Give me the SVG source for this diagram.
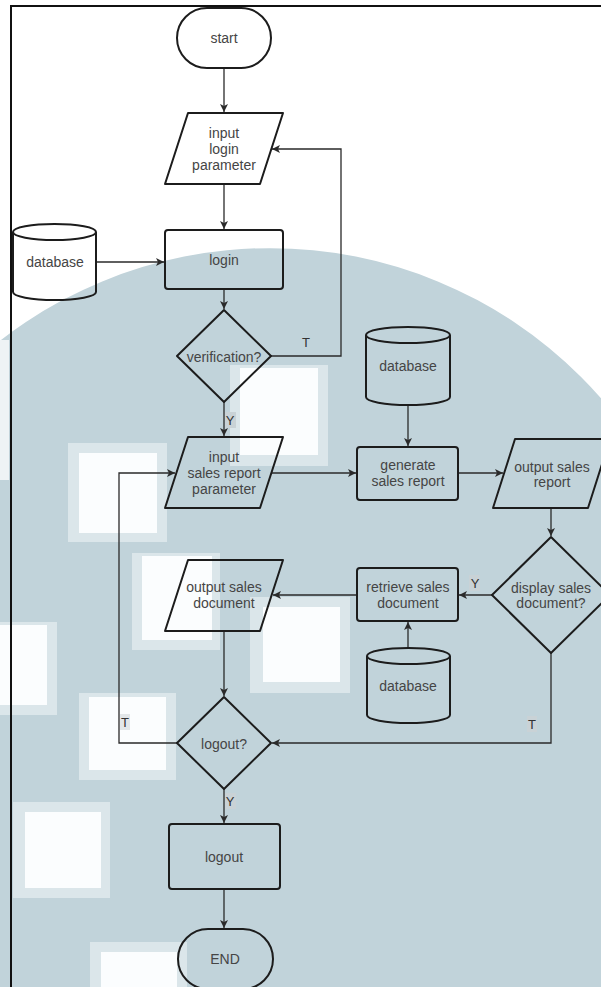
<svg xmlns="http://www.w3.org/2000/svg" width="601" height="987" viewBox="0 0 601 987">
<style>
.n{fill:none;stroke:#1c1c1c;stroke-width:2;stroke-linejoin:round}
.c{fill:none;stroke:#2a2a2a;stroke-width:1.3}
.t{font-family:"Liberation Sans",Arial,sans-serif;font-size:14px;fill:#454545;text-anchor:middle}
.l{font-family:"Liberation Sans",Arial,sans-serif;font-size:13px;fill:#333;text-anchor:middle}
.sq{fill:#dbe6ea}
.sw{fill:#fbfdfe}
</style>
<defs>
<marker id="ar" markerUnits="userSpaceOnUse" markerWidth="10" markerHeight="8" refX="8" refY="4" orient="auto">
<path d="M0,0 L8,4 L0,8 L2,4 z" fill="#2a2a2a"/>
</marker>
</defs>
<g id="background">
<rect x="0" y="0" width="601" height="987" fill="#ffffff"/>
<path d="M-170,688 A440,440 0 0 1 710,688 V1000 H-170 Z" fill="#c1d3da"/>
<rect x="0" y="340" width="9" height="140" fill="#eef3f5"/>
<rect class="sq" x="230" y="365" width="98" height="101"/><rect class="sw" x="240" y="368" width="78" height="87"/>
<rect class="sq" x="68" y="443" width="99" height="99"/><rect class="sw" x="79" y="453" width="78" height="80"/>
<rect class="sq" x="132" y="553" width="88" height="97"/><rect class="sw" x="142" y="556" width="70" height="84"/>
<rect class="sq" x="250" y="597" width="100" height="96"/><rect class="sw" x="263" y="607" width="77" height="75"/>
<rect class="sq" x="0" y="622" width="57" height="93"/><rect class="sw" x="0" y="625" width="47" height="80"/>
<rect class="sq" x="79" y="693" width="97" height="87"/><rect class="sw" x="89" y="697" width="77" height="73"/>
<rect class="sq" x="13" y="802" width="97" height="96"/><rect class="sw" x="25" y="812" width="76" height="76"/>
<rect class="sq" x="90" y="942" width="97" height="45"/><rect class="sw" x="101" y="952" width="76" height="35"/>
<path d="M10,6 H601" stroke="#111" stroke-width="2.2" fill="none"/>
<path d="M11,5 V987" stroke="#111" stroke-width="2" fill="none"/>
</g>
<g id="connectors">
<path class="c" d="M224,68 V112" marker-end="url(#ar)"/>
<path class="c" d="M224,184 V229" marker-end="url(#ar)"/>
<path class="c" d="M96,262 H164" marker-end="url(#ar)"/>
<path class="c" d="M224,289 V309" marker-end="url(#ar)"/>
<path class="c" d="M271,356 H341 V149 H272" marker-end="url(#ar)"/>
<path class="c" d="M224,402 V436" marker-end="url(#ar)"/>
<path class="c" d="M272,473 H356" marker-end="url(#ar)"/>
<path class="c" d="M408,405 V446" marker-end="url(#ar)"/>
<path class="c" d="M458,473 H503" marker-end="url(#ar)"/>
<path class="c" d="M551,508 V536" marker-end="url(#ar)"/>
<path class="c" d="M492,595 H459" marker-end="url(#ar)"/>
<path class="c" d="M357,595 H273" marker-end="url(#ar)"/>
<path class="c" d="M408,648 V622" marker-end="url(#ar)"/>
<path class="c" d="M224,631 V696" marker-end="url(#ar)"/>
<path class="c" d="M551,653 V743 H272" marker-end="url(#ar)"/>
<path class="c" d="M177,743 H119 V473 H175" marker-end="url(#ar)"/>
<path class="c" d="M224,789 V823" marker-end="url(#ar)"/>
<path class="c" d="M224,889 V928" marker-end="url(#ar)"/>
<text class="l" x="306" y="347">T</text>
<rect x="225" y="412" width="11" height="16" fill="#c9d2d6"/><text class="l" x="230" y="425">Y</text>
<rect x="469" y="575" width="11" height="16" fill="#c9d2d6"/><text class="l" x="475" y="588">Y</text>
<rect x="120" y="714" width="10" height="16" fill="#e3e7e9"/><text class="l" x="125" y="727">T</text>
<rect x="527" y="716" width="10" height="16" fill="#c9d2d6"/><text class="l" x="532" y="729">T</text>
<rect x="225" y="793" width="11" height="16" fill="#c9d2d6"/><text class="l" x="230" y="806">Y</text>
</g>
<g id="start"><rect class="n" x="177" y="8" width="94" height="60" rx="30"/><text class="t" x="224" y="43">start</text></g>
<g id="input-login"><path class="n" d="M188,113 H283 L260,184 H165 Z"/><text class="t" x="224" y="138">input</text><text class="t" x="224" y="154">login</text><text class="t" x="224" y="170">parameter</text></g>
<g id="login"><rect class="n" x="165" y="230" width="118" height="59" rx="3"/><text class="t" x="224" y="265">login</text></g>
<g id="db-login"><path class="n" d="M13,232 A41.5,8 0 0 1 96,232 V292 A41.5,8 0 0 1 13,292 Z M13,232 A41.5,8 0 0 0 96,232"/><text class="t" x="55" y="267">database</text></g>
<g id="verification"><path class="n" d="M224,310 L271,356 L224,402 L177,356 Z"/><text class="t" x="224" y="362">verification?</text></g>
<g id="input-sales"><path class="n" d="M188,437 H283 L260,508 H165 Z"/><text class="t" x="224" y="462">input</text><text class="t" x="224" y="478">sales report</text><text class="t" x="224" y="494">parameter</text></g>
<g id="db-generate"><path class="n" d="M366,335 A42,8 0 0 1 450,335 V397 A42,8 0 0 1 366,397 Z M366,335 A42,8 0 0 0 450,335"/><text class="t" x="408" y="371">database</text></g>
<g id="generate"><rect class="n" x="357" y="447" width="101" height="53" rx="3"/><text class="t" x="408" y="470">generate</text><text class="t" x="408" y="486">sales report</text></g>
<g id="output-report"><path class="n" d="M515,439 H610 L588,508 H493 Z"/><text class="t" x="552" y="472">output sales</text><text class="t" x="552" y="487">report</text></g>
<g id="display"><path class="n" d="M551,537 L610,595 L551,653 L492,595 Z"/><text class="t" x="551" y="593">display sales</text><text class="t" x="551" y="608">document?</text></g>
<g id="retrieve"><rect class="n" x="357" y="568" width="101" height="53" rx="3"/><text class="t" x="408" y="592">retrieve sales</text><text class="t" x="408" y="608">document</text></g>
<g id="db-retrieve"><path class="n" d="M367,656 A41.5,8 0 0 1 450,656 V715 A41.5,8 0 0 1 367,715 Z M367,656 A41.5,8 0 0 0 450,656"/><text class="t" x="408" y="691">database</text></g>
<g id="output-document"><path class="n" d="M188,560 H283 L260,631 H165 Z"/><text class="t" x="224" y="592">output sales</text><text class="t" x="224" y="608">document</text></g>
<g id="logout-q"><path class="n" d="M224,697 L271,743 L224,789 L177,743 Z"/><text class="t" x="224" y="749">logout?</text></g>
<g id="logout"><rect class="n" x="169" y="824" width="111" height="65" rx="3"/><text class="t" x="224" y="862">logout</text></g>
<g id="end"><rect class="n" x="178" y="929" width="95" height="60" rx="30"/><text class="t" x="225" y="964">END</text></g>
</svg>
